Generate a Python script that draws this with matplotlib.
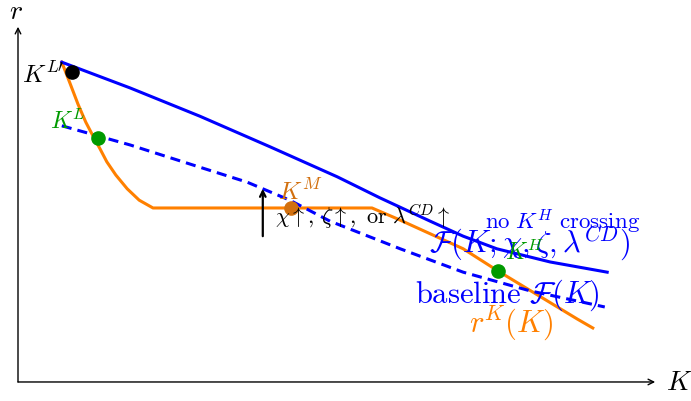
import matplotlib
matplotlib.use("Agg")
import matplotlib.pyplot as plt

plt.rcParams["mathtext.fontset"] = "cm"
plt.rcParams["font.family"] = "DejaVu Serif"

BLUE = "#0000ff"; ORANGE = "#ff8000"; DOT_OR = "#d2700f"; GREEN = "#009a00"

# shifted supply curve F(K; chi, zeta, lambda^CD)
shift_k = [0.73, 1.87, 3.03, 4.20, 5.32, 6.03, 6.87, 7.42, 7.98, 8.87, 9.82]
shift_r = [5.33, 4.90, 4.43, 3.92, 3.42, 3.07, 2.68, 2.43, 2.22, 2.00, 1.83]
# baseline F(K)
base_k = [0.73, 1.87, 3.03, 3.82, 4.53, 5.20, 6.37, 7.42, 8.53, 9.78]
base_r = [4.27, 3.95, 3.58, 3.33, 3.03, 2.68, 2.22, 1.83, 1.52, 1.25]
# r^K(K)
rk_k = [0.73, 0.87, 1.00, 1.13, 1.25, 1.37, 1.48, 1.63, 1.82, 2.02, 2.25,
        5.90, 6.32, 7.42, 8.00, 9.32, 9.58]
rk_r = [5.33, 4.97, 4.63, 4.33, 4.10, 3.88, 3.67, 3.45, 3.22, 3.03, 2.90,
        2.90, 2.72, 2.22, 1.85, 1.05, 0.90]

pts_k = [0.90, 1.33, 4.55, 8.00]
pts_r = [5.17, 4.07, 2.90, 1.85]
pts_c = ["black", GREEN, DOT_OR, GREEN]

fig = plt.figure(figsize=(6.91, 4.02), dpi=100)
ax = fig.add_axes([0, 0, 1, 1])
ax.set_xlim(-0.3, 11.217)
ax.set_ylim(-0.317, 6.383)
ax.axis("off")

# axes with arrow heads
ax.annotate("", xy=(10.62, 0), xytext=(0, 0),
            arrowprops=dict(arrowstyle="->", color="black", lw=1.0, shrinkA=0, shrinkB=0))
ax.annotate("", xy=(0, 5.92), xytext=(0, 0),
            arrowprops=dict(arrowstyle="->", color="black", lw=1.0, shrinkA=0, shrinkB=0))
ax.text(-0.03, 6.19, "$r$", fontsize=20, ha="center", va="center")
ax.text(11.03, 0.0, "$K$", fontsize=20, ha="center", va="center")

ax.plot(shift_k, shift_r, color=BLUE, lw=2.2, zorder=3)
ax.plot(base_k, base_r, color=BLUE, lw=2.2, ls=(0, (3.3, 2)), zorder=3)
ax.plot(rk_k, rk_r, color=ORANGE, lw=2.2, zorder=2)

for k, r, c in zip(pts_k, pts_r, pts_c):
    ax.plot(k, r, "o", color=c, ms=9.5, zorder=4)

# upward shift arrow
ax.annotate("", xy=(4.08, 3.22), xytext=(4.08, 2.43),
            arrowprops=dict(arrowstyle="->", color="black", lw=1.6, shrinkA=0, shrinkB=0))

ax.text(0.42, 5.13, "$K^{L\\prime}$", fontsize=18, ha="center", va="center", zorder=5)
ax.text(0.83, 4.35, "$K^{L}$", fontsize=17, color=GREEN, ha="center", va="center", zorder=5)
ax.text(4.70, 3.18, "$K^{M}$", fontsize=18, color=DOT_OR, ha="center", va="center", zorder=5)
ax.text(4.28, 2.78, "$\\chi\\uparrow,\\,\\zeta\\uparrow,\\ \\mathrm{or}\\ \\lambda^{CD}\\uparrow$",
        fontsize=16, ha="left", va="center", zorder=5)
ax.text(9.07, 2.68, "$\\mathrm{no}\\ K^{H}\\ \\mathrm{crossing}$", fontsize=16.5,
        color=BLUE, ha="center", va="center", zorder=5)
ax.text(8.53, 2.33, "$\\mathcal{F}(K;\\chi,\\zeta,\\lambda^{CD})$", fontsize=22,
        color=BLUE, ha="center", va="center", zorder=5)
ax.text(8.45, 2.18, "$K^{H}$", fontsize=17, color=GREEN, ha="center", va="center", zorder=5)
ax.text(8.15, 1.47, "$\\mathrm{baseline}\\ \\mathcal{F}(K)$", fontsize=22,
        color=BLUE, ha="center", va="center", zorder=5)
ax.text(8.23, 1.00, "$r^{K}(K)$", fontsize=22, color=ORANGE, ha="center", va="center", zorder=5)

fig.savefig("out.png", dpi=100, facecolor="white")
